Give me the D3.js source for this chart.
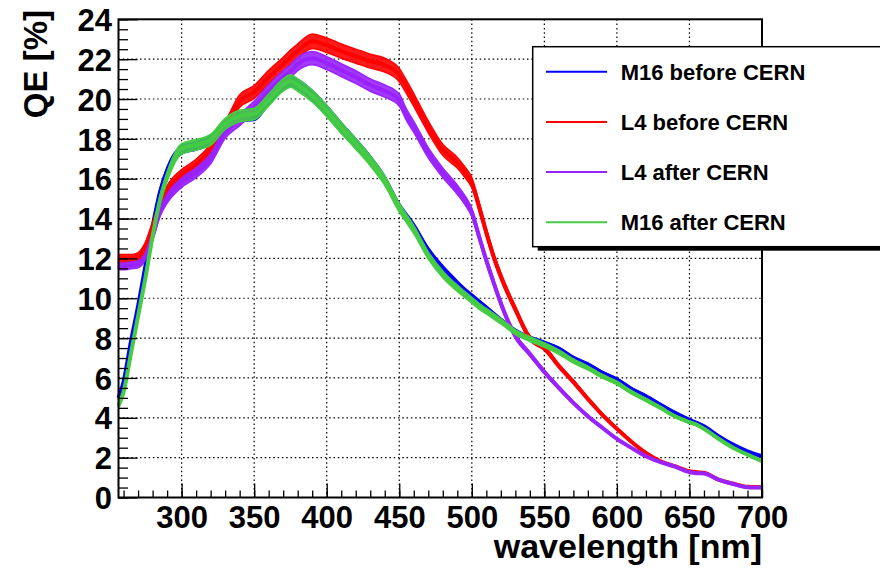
<!DOCTYPE html>
<html>
<head>
<meta charset="utf-8">
<script src="https://cdn.jsdelivr.net/npm/d3@7"></script>
<style>
  html, body { margin: 0; padding: 0; background: #fff; }
  svg { display: block; font-family: 'Liberation Sans', Arial, Helvetica, sans-serif; font-weight: bold; }
</style>
</head>
<body>
<div id="chart"></div>
<script>
// wavelength samples [nm]
const wavelengths = [256.5, 260, 265, 270, 275, 280, 285, 290, 300, 310, 320, 330, 340, 350, 360, 370, 375, 380, 390, 400,
  410, 420, 430, 440, 450, 455, 460, 470, 480, 490, 495, 500, 505, 510, 515, 520, 530, 540, 550, 560,
  570, 580, 590, 600, 610, 620, 630, 640, 650, 655, 660, 670, 680, 690, 700]

// QE [%] per sample
const m16Before = [5.0, 5.8, 7.8, 9.6, 11.6, 13.6, 15.3, 16.4, 17.45, 17.65, 17.95, 18.7, 19.1, 19.15, 19.95, 20.7, 20.9, 20.75, 20.2, 19.45,
  18.6, 17.8, 16.95, 15.95, 14.6, 14.1, 13.6, 12.4, 11.5, 10.75, 10.4, 10.1, 9.8, 9.5, 9.2, 8.9, 8.35, 8.0, 7.75, 7.45,
  7.0, 6.67, 6.25, 5.92, 5.45, 5.08, 4.66, 4.25, 3.9, 3.75, 3.58, 3.08, 2.66, 2.32, 2.07]
const l4Before = [12.0, 12.0, 12.0, 12.1, 12.6, 13.6, 14.6, 15.4, 16.2, 16.7, 17.45, 18.55, 19.9, 20.35, 21.1, 21.75, 22.1, 22.4, 22.9, 22.7,
  22.4, 22.15, 21.9, 21.7, 21.2, 20.6, 19.95, 18.6, 17.45, 16.8, 16.35, 15.8, 14.6, 13.3, 12.1, 11.1, 9.45, 8.0, 7.5, 6.6,
  5.8, 4.95, 4.15, 3.45, 2.8, 2.24, 1.82, 1.57, 1.32, 1.27, 1.24, 0.9, 0.7, 0.54, 0.52]
const l4After = [11.6, 11.6, 11.65, 11.7, 12.1, 13.1, 14.3, 15.0, 15.8, 16.3, 17.0, 18.3, 18.95, 19.6, 20.4, 21.1, 21.4, 21.75, 22.05, 21.8,
  21.45, 21.1, 20.7, 20.4, 19.95, 19.2, 18.6, 17.3, 16.3, 15.45, 14.95, 14.3, 13.1, 11.9, 10.8, 9.75, 8.1, 7.2, 6.3, 5.5,
  4.75, 4.08, 3.5, 2.94, 2.49, 2.07, 1.77, 1.55, 1.27, 1.22, 1.2, 0.9, 0.68, 0.52, 0.5]
const m16After = [4.6, 5.3, 7.2, 9.1, 11.0, 13.1, 14.9, 16.1, 17.5, 17.7, 17.95, 18.75, 19.15, 19.25, 19.95, 20.7, 20.9, 20.7, 20.15, 19.4,
  18.55, 17.75, 16.9, 15.9, 14.55, 14.0, 13.45, 12.15, 11.2, 10.5, 10.2, 9.9, 9.6, 9.35, 9.1, 8.85, 8.3, 7.95, 7.65, 7.3,
  6.85, 6.5, 6.08, 5.75, 5.28, 4.9, 4.5, 4.08, 3.78, 3.65, 3.45, 2.95, 2.5, 2.15, 1.82]

// relative uncertainty of each measurement
const relErrors = [0.012, 0.016, 0.015, 0.015]
const seriesNames = ['M16 before CERN', 'L4 before CERN', 'L4 after CERN', 'M16 after CERN']
const seriesColors = ['#0000ff', '#ff0000', '#9922ff', '#44cc44']

const xTicks = [300, 350, 400, 450, 500, 550, 600, 650, 700]
const xMinorTicks = d3.range(260, 701, 10)
const yTicks = [0, 2, 4, 6, 8, 10, 12, 14, 16, 18, 20, 22, 24]
const yMinorTicks = d3.range(0, 24.01, 0.5)

const width = 880
const height = 572
const frame = { left: 118.5, right: 762, top: 19.3, bottom: 497.5 }

const svg = d3.select('#chart').append('svg')
  .attr('width', width)
  .attr('height', height)

const x = d3.scaleLinear().domain([256.5, 700]).range([frame.left, frame.right])
const y = d3.scaleLinear().domain([0, 24]).range([frame.bottom, frame.top])

// dotted grid
const grid = svg.append('g').attr('class', 'grid')
  .style('stroke', '#000')
  .style('stroke-width', 1.2)
  .style('stroke-dasharray', '1.5,2.8')
grid.selectAll('.gx')
  .data(xTicks.filter(d => d < 700))
  .enter().append('line')
  .attr('x1', d => x(d)).attr('x2', d => x(d))
  .attr('y1', frame.top).attr('y2', frame.bottom)
grid.selectAll('.gy')
  .data(yTicks.filter(d => d > 0 && d < 24))
  .enter().append('line')
  .attr('x1', frame.left).attr('x2', frame.right)
  .attr('y1', d => y(d)).attr('y2', d => y(d))

// measurements: error band plus centre line
const series = [m16Before, l4Before, l4After, m16After].map((values, i) => ({
  name: seriesNames[i],
  color: seriesColors[i],
  err: relErrors[i],
  points: wavelengths.map((w, j) => ({ w, v: values[j] }))
}))

const plot = svg.append('g').attr('class', 'plot')
series.forEach(s => {
  const band = d3.area()
    .curve(d3.curveMonotoneX)
    .x(d => x(d.w))
    .y0(d => y(d.v * (1 - s.err)))
    .y1(d => y(d.v * (1 + s.err)))
  const line = d3.line()
    .curve(d3.curveMonotoneX)
    .x(d => x(d.w))
    .y(d => y(d.v))

  plot.append('path')
    .datum(s.points)
    .attr('d', band)
    .style('fill', s.color)
    .style('fill-opacity', 0.9)
    .style('stroke', s.color)
    .style('stroke-width', 1.5)
    .style('stroke-linejoin', 'round')

  plot.append('path')
    .datum(s.points)
    .attr('d', line)
    .style('fill', 'none')
    .style('stroke', s.color)
    .style('stroke-width', 4)
})

// frame
svg.append('rect')
  .attr('x', frame.left)
  .attr('y', frame.top)
  .attr('width', frame.right - frame.left)
  .attr('height', frame.bottom - frame.top)
  .style('fill', 'none')
  .style('stroke', '#000')
  .style('stroke-width', 2)

// axes, ticks pointing inside
const styleAxis = g => {
  g.select('.domain').remove()
  g.selectAll('line').style('stroke', '#000').style('stroke-width', 1.3)
  g.selectAll('text').style('font-size', '31px').style('font-weight', 'bold').style('fill', '#000')
}

svg.append('g')
  .attr('transform', `translate(0,${frame.bottom})`)
  .call(d3.axisBottom(x).tickValues(xMinorTicks).tickSize(-7).tickFormat(''))
  .call(styleAxis)
svg.append('g')
  .attr('transform', `translate(0,${frame.bottom})`)
  .call(d3.axisBottom(x).tickValues(xTicks).tickSize(-14).tickPadding(8).tickFormat(d3.format('d')))
  .call(styleAxis)

svg.append('g')
  .attr('transform', `translate(${frame.left},0)`)
  .call(d3.axisLeft(y).tickValues(yMinorTicks).tickSize(-9.5).tickFormat(''))
  .call(styleAxis)
svg.append('g')
  .attr('transform', `translate(${frame.left},0)`)
  .call(d3.axisLeft(y).tickValues(yTicks).tickSize(-19).tickPadding(6.5).tickFormat(d3.format('d')))
  .call(styleAxis)
  .call(g => g.selectAll('text').attr('dy', '0.36em'))

// axis titles
svg.append('text')
  .attr('x', frame.right)
  .attr('y', 558)
  .attr('text-anchor', 'end')
  .style('font-size', '34px')
  .text('wavelength [nm]')

svg.append('text')
  .attr('transform', 'translate(47,10) rotate(-90)')
  .attr('text-anchor', 'end')
  .style('font-size', '33px')
  .text('QE [%]')

// legend with drop shadow
const legend = { x: 532.7, y: 46.7, w: 400, h: 200 }
svg.append('rect')
  .attr('x', legend.x + 5).attr('y', legend.y + 4)
  .attr('width', legend.w).attr('height', legend.h)
  .style('fill', '#000')
svg.append('rect')
  .attr('x', legend.x).attr('y', legend.y)
  .attr('width', legend.w).attr('height', legend.h)
  .style('fill', '#fff')
  .style('stroke', '#000')
  .style('stroke-width', 1.5)

const rows = svg.selectAll('.legend-row')
  .data(series)
  .enter().append('g')
  .attr('class', 'legend-row')
  .attr('transform', (d, i) => `translate(0,${legend.y + 25 + i * 50.2})`)

rows.append('line')
  .attr('x1', 546).attr('x2', 607)
  .attr('y1', 0).attr('y2', 0)
  .style('stroke', d => d.color)
  .style('stroke-width', 2)

rows.append('text')
  .attr('x', 620.7)
  .attr('y', 0)
  .attr('dy', '0.36em')
  .style('font-size', '22px')
  .text(d => d.name)
</script>
</body>
</html>
